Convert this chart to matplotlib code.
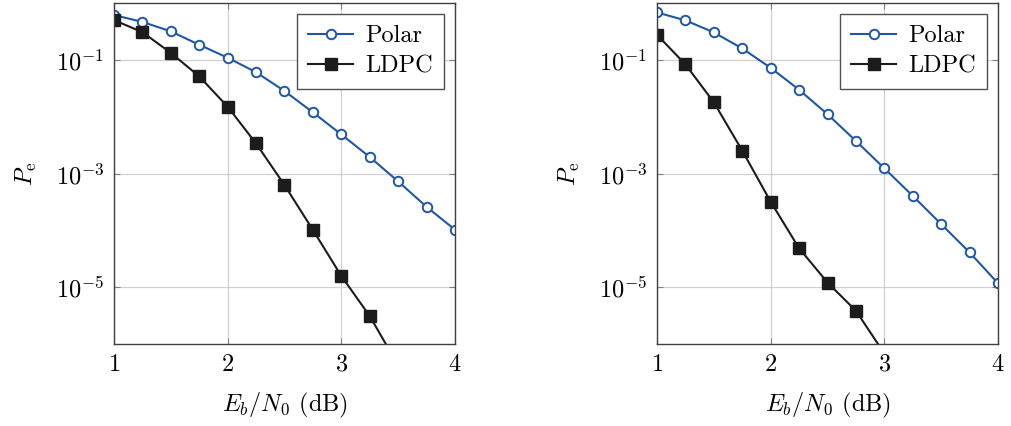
import numpy as np
import matplotlib
matplotlib.use("Agg")
import matplotlib.pyplot as plt

plt.rcParams['font.family'] = 'serif'
plt.rcParams['font.serif'] = ['cmr10', 'DejaVu Serif']
plt.rcParams['mathtext.fontset'] = 'cm'
plt.rcParams['axes.formatter.use_mathtext'] = True
plt.rcParams['axes.unicode_minus'] = False

# Eb/N0 in dB
snr = [1.0, 1.25, 1.5, 1.75, 2.0, 2.25, 2.5, 2.75, 3.0, 3.25, 3.5, 3.75, 4.0]

# left panel
polar_a = [0.62, 0.47, 0.32, 0.186, 0.11, 0.061, 0.0285, 0.012, 0.0049,
           0.00196, 7.3e-4, 2.6e-4, 1.03e-4]
ldpc_a = [0.506, 0.31, 0.134, 0.0516, 0.0151, 0.0034, 6.3e-4, 1.02e-4,
          1.58e-5, 3.1e-6, 4.2e-7]

# right panel
polar_b = [0.69, 0.50, 0.307, 0.16, 0.073, 0.030, 0.0111, 0.00376, 0.00124,
           4.05e-4, 1.29e-4, 4.1e-5, 1.17e-5]
ldpc_b = [0.279, 0.084, 0.018, 0.00254, 3.2e-4, 4.85e-5, 1.21e-5, 3.84e-6,
          6.8e-7]

blue = '#1f57a8'
dark = '#1c1c1c'
fs = 17.5

fig = plt.figure(figsize=(10.12, 4.26), dpi=100)
ax1 = fig.add_axes([0.1126, 0.1925, 0.3370, 0.7998])
ax2 = fig.add_axes([0.6492, 0.1925, 0.3370, 0.7998])

for ax, pol, ld in [(ax1, polar_a, ldpc_a), (ax2, polar_b, ldpc_b)]:
    ax.semilogy(snr[:len(pol)], pol, color=blue, lw=1.5, marker='o',
                ms=6.8, mfc='white', mec=blue, mew=1.4, label='Polar')
    ax.semilogy(snr[:len(ld)], ld, color=dark, lw=1.5, marker='s',
                ms=8.2, mfc=dark, mec=dark, label='LDPC')
    ax.set_xlim(1, 4)
    ax.set_ylim(1e-6, 1)
    ax.set_xticks([1, 2, 3, 4])
    ax.set_yticks([1e-1, 1e-3, 1e-5])
    ax.minorticks_off()
    ax.grid(True, color='#d0d0d0', lw=0.9)
    ax.set_axisbelow(True)
    ax.tick_params(direction='in', length=4, width=0.8, color='#808080',
                   labelsize=fs, top=True, right=True, pad=7)
    for s in ax.spines.values():
        s.set_color('#404040')
        s.set_linewidth(1.0)
    ax.set_xlabel(r'$E_b/N_0$ (dB)', fontsize=fs, labelpad=11)
    ax.set_ylabel(r'$P_\mathrm{e}$', fontsize=fs, labelpad=12)
    leg = ax.legend(loc='upper right', fontsize=fs, fancybox=False,
                    framealpha=1, edgecolor='#505050', borderpad=0.45,
                    handlelength=1.85, handletextpad=0.5, labelspacing=0.35,
                    borderaxespad=0.45)
    leg.get_frame().set_linewidth(1.0)

fig.savefig('out.png', dpi=100)
